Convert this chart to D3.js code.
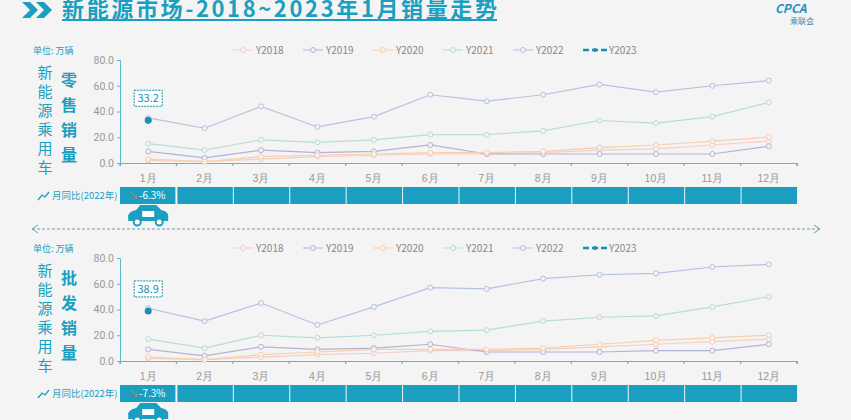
<!DOCTYPE html>
<html><head><meta charset="utf-8">
<script src="https://cdn.jsdelivr.net/npm/d3@7"></script>
<style>
body{margin:0;background:#f4f4f4;font-family:"Noto Sans CJK SC","Noto Sans",sans-serif;}
</style></head>
<body><div id="chart"></div>
<script>
// Data
const months = ['1月','2月','3月','4月','5月','6月','7月','8月','9月','10月','11月','12月'];
const years  = ['Y2018','Y2019','Y2020','Y2021','Y2022','Y2023'];
const yTicks = [0, 20, 40, 60, 80];

const retail2018 = [2, 1, 3, 5, 6, 7, 7, 8, 10, 11, 14, 17];
const retail2019 = [9, 4, 10, 8, 9, 14, 7, 7, 7, 7, 7, 13];
const retail2020 = [3, 1, 5, 6, 7, 8, 8, 9, 12, 14, 17, 20];
const retail2021 = [15, 10, 18, 16, 18, 22, 22, 25, 33, 31, 36, 47];
const retail2022 = [35, 27, 44, 28, 36, 53, 48, 53, 61, 55, 60, 64];
const retail2023 = [33.2];

const whole2018 = [2, 1, 3, 5, 6, 8, 8, 9, 11, 13, 15, 17];
const whole2019 = [9, 4, 11, 9, 10, 13, 7, 7, 7, 8, 8, 13];
const whole2020 = [3, 1, 5, 7, 9, 9, 9, 10, 13, 16, 18, 20];
const whole2021 = [17, 10, 20, 18, 20, 23, 24, 31, 34, 35, 42, 50];
const whole2022 = [41, 31, 45, 28, 42, 57, 56, 64, 67, 68, 73, 75];
const whole2023 = [38.9];

const yoyRetail = ['-6.3%'];
const yoyWhole  = ['-7.3%'];

const colors = ['#f6cdc6', '#b5b0d8', '#f9cfa8', '#b8ddd2', '#b4c2df', '#1a8fb2'];
const teal = '#1a9fc0';

const W = 851, H = 420;
const svg = d3.select('#chart').append('svg').attr('width', W).attr('height', H);

// Header
svg.append('path').attr('d', 'M22,2 L30,2 L38,10 L30,18 L22,18 L30,10Z M36,2 L44,2 L52,10 L44,18 L36,18 L44,10Z').attr('fill', teal);
svg.append('text').attr('x', 62).attr('y', 17).attr('fill', teal)
  .attr('font-size', 22).attr('font-weight', 'bold').attr('textLength', 435).text('新能源市场-2018~2023年1月销量走势');
svg.append('line').attr('x1', 62).attr('x2', 497).attr('y1', 20).attr('y2', 20).attr('stroke', teal).attr('stroke-width', 2);
svg.append('text').attr('x', 775).attr('y', 13).attr('fill', '#2a8fc0').attr('font-size', 12)
  .attr('font-weight', 'bold').attr('font-style', 'italic').text('CPCA');
svg.append('text').attr('x', 790).attr('y', 24).attr('fill', '#2a8fc0').attr('font-size', 8).text('乘联会');

function panel(top, title, series, s2023, yoy) {
  const x = d3.scaleBand().domain(months).range([120, 797]);
  const y = d3.scaleLinear().domain([0, 80]).range([top + 103, top]);
  const g = svg.append('g');

  // left labels
  g.append('text').attr('x', 33).attr('y', top - 6).attr('font-size', 9).attr('fill', teal).text('单位: 万辆');
  '新能源乘用车'.split('').forEach((c, i) => g.append('text').attr('x', 45).attr('y', top + 18 + i * 19)
    .attr('text-anchor', 'middle').attr('font-size', 15).attr('fill', teal).text(c));
  title.split('').forEach((c, i) => g.append('text').attr('x', 69).attr('y', top + 26 + i * 25)
    .attr('text-anchor', 'middle').attr('font-size', 16).attr('font-weight', 'bold').attr('fill', teal).text(c));

  // axes
  const ya = g.append('g').attr('transform', 'translate(120,0)')
    .call(d3.axisLeft(y).tickValues(yTicks).tickFormat(d3.format('.1f')).tickSize(3));
  ya.selectAll('text').attr('fill', '#999').attr('font-size', 10.5).attr('font-family', 'Roboto, sans-serif');
  ya.selectAll('line,path').attr('stroke', '#5ab8cc');
  const xa = g.append('g').attr('transform', `translate(0,${y(0)})`)
    .call(d3.axisBottom(x).tickSize(3).tickSizeOuter(3));
  xa.selectAll('.tick line').attr('transform', `translate(${-x.bandwidth() / 2},0)`);
  xa.append('line').attr('x1', 797).attr('x2', 797).attr('y2', 3);
  xa.selectAll('text').attr('fill', '#999').attr('font-size', 10.5).attr('dy', '1.2em');
  xa.selectAll('line,path').attr('stroke', '#5ab8cc').attr('stroke-width', 1.2);

  // legend
  years.forEach((yr, i) => {
    const lx = 233 + i * 70;
    const lg = g.append('g').attr('transform', `translate(${lx},${top - 10})`);
    if (i < 5) {
      lg.append('line').attr('x1', 0).attr('x2', 20).attr('stroke', colors[i]);
      lg.append('circle').attr('cx', 10).attr('r', 2.5).attr('fill', '#f4f4f4').attr('stroke', colors[i]);
    } else {
      lg.append('line').attr('x1', 0).attr('x2', 24).attr('stroke', colors[i]).attr('stroke-width', 2.5).attr('stroke-dasharray', '6,3');
      lg.append('circle').attr('cx', 12).attr('r', 2).attr('fill', colors[i]);
    }
    lg.append('text').attr('x', i < 5 ? 23 : 26).attr('y', 4).attr('font-size', 10).attr('fill', '#888').text(yr);
  });

  const cx = d => x(d) + x.bandwidth() / 2;
  const line = d3.line().x((d, i) => cx(months[i])).y(d => y(d));
  series.forEach((s, k) => {
    g.append('path').datum(s).attr('d', line).attr('fill', 'none').attr('stroke', colors[k]).attr('stroke-width', 1.2);
    g.selectAll(null).data(s).join('circle').attr('cx', (d, i) => cx(months[i])).attr('cy', d => y(d))
      .attr('r', 2.5).attr('fill', '#f4f4f4').attr('stroke', colors[k]);
  });
  // 2023
  s2023.forEach((v, i) => {
    g.append('circle').attr('cx', cx(months[i])).attr('cy', y(v)).attr('r', 3.5).attr('fill', colors[5]);
    g.append('rect').attr('x', cx(months[i]) - 14).attr('y', y(v) - 30).attr('width', 28).attr('height', 16)
      .attr('fill', '#fff').attr('stroke', colors[5]).attr('stroke-dasharray', '2,1');
    g.append('text').attr('x', cx(months[i])).attr('y', y(v) - 18).attr('text-anchor', 'middle')
      .attr('font-size', 11).attr('fill', colors[5]).text(d3.format('.1f')(v));
  });

  // yoy bar
  const by = top + 127;
  g.append('path').attr('d', `M38,${by + 13} L42,${by + 8} L45,${by + 10} L49,${by + 5}`).attr('fill', 'none').attr('stroke', teal).attr('stroke-width', 1.3);
  g.append('text').attr('x', 52).attr('y', by + 12).attr('font-size', 9.5).attr('fill', teal).text('月同比(2022年)');
  months.forEach((m, i) => {
    g.append('rect').attr('x', x(m) + (i ? 1 : 0)).attr('y', by).attr('width', x.bandwidth() - 1).attr('height', 17).attr('fill', teal);
    if (yoy[i]) {
      g.append('text').attr('x', x(m) + 9).attr('y', by + 12).attr('font-size', 9).attr('fill', '#c98a3a').text('↘');
      g.append('text').attr('x', x(m) + 19).attr('y', by + 12).attr('font-size', 10).attr('fill', '#fff').text(yoy[i]);
    }
  });
  // car icon
  const c = g.append('g').attr('transform', `translate(${cx(months[0])},${by + 28})`).attr('fill', teal);
  c.append('path').attr('d', 'M-20,6 L-20,0 Q-18,-4 -12,-5 L-8,-10 L8,-10 L13,-5 Q19,-4 20,0 L20,6Z');
  c.append('rect').attr('x', -6).attr('y', -4).attr('width', 12).attr('height', 6).attr('fill', '#fff');
  c.append('circle').attr('cx', -11).attr('cy', 7).attr('r', 3.5).attr('fill', '#fff').attr('stroke', teal).attr('stroke-width', 2);
  c.append('circle').attr('cx', 11).attr('cy', 7).attr('r', 3.5).attr('fill', '#fff').attr('stroke', teal).attr('stroke-width', 2);
}

panel(60, '零售销量', [retail2018, retail2019, retail2020, retail2021, retail2022], retail2023, yoyRetail);

// separator
svg.append('line').attr('x1', 32).attr('x2', 820).attr('y1', 229).attr('y2', 229)
  .attr('stroke', '#6a9fb5').attr('stroke-dasharray', '3,2');
svg.append('path').attr('d', 'M38,225 L32,229 L38,233 M814,225 L820,229 L814,233').attr('fill', 'none').attr('stroke', '#6a9fb5');

panel(258, '批发销量', [whole2018, whole2019, whole2020, whole2021, whole2022], whole2023, yoyWhole);
</script></body></html>
